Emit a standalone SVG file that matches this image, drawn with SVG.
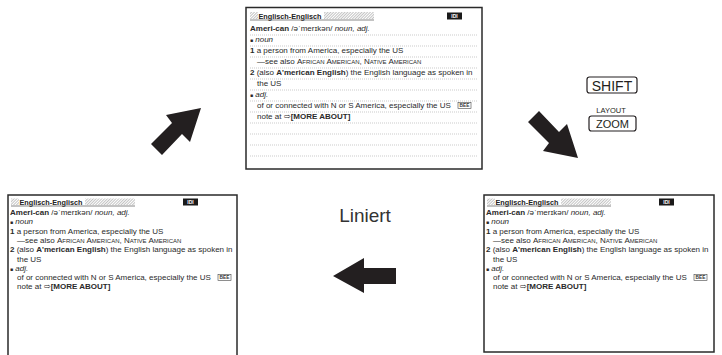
<svg xmlns="http://www.w3.org/2000/svg" width="722" height="355" viewBox="0 0 722 355">
<defs>
<pattern id="hatch" width="2" height="2" patternUnits="userSpaceOnUse" patternTransform="rotate(45)">
<rect width="2" height="2" fill="#fff"/>
<line x1="0" y1="0" x2="0" y2="2" stroke="#888" stroke-width="1"/>
</pattern>
<style>
.frame{fill:#fff;stroke:#2a2a2a;stroke-width:1.5}
.t{font-family:"Liberation Sans",Arial,sans-serif;font-size:8px;fill:#2a2a2a}
.b{font-weight:bold}
.i{font-style:italic}
.sc{font-variant:small-caps}
.sq{font-size:5px}
.hd{font-family:"Liberation Sans",Arial,sans-serif;font-size:8px;font-weight:bold;fill:#222}
.rule{stroke:#a8a8a8;stroke-width:0.6;stroke-dasharray:1 1}
.hl{stroke:#555;stroke-width:0.7}
.badge{fill:#1a1a1a}
.badgeT{font-family:"Liberation Sans",Arial,sans-serif;font-size:5px;fill:#fff;font-weight:bold}
.bee{fill:#fff;stroke:#444;stroke-width:0.6}
.beeT{font-family:"Liberation Sans",Arial,sans-serif;font-size:4.8px;fill:#333;font-weight:bold}
.arrow{fill:#231f20}
.key{fill:#fff;stroke:#231f20;stroke-width:1.2}
.keyT{font-family:"Liberation Sans",Arial,sans-serif;fill:#231f20;text-anchor:middle}
</style>
</defs>

<g id="connectors">
<polygon class="arrow" points="201,108 166,115 172,123 151,144 162,155 182,134 190,142"/>
<polygon class="arrow" points="578,158 543,151 549,143 528,122 539,111 559,132 567,124"/>
<polygon class="arrow" points="333,276 364,258 364,268 396,268 396,284 364,284 364,293"/>
</g>

<g id="panel-top">
<rect class="frame" x="246" y="7.5" width="236" height="161.5"/>
<rect x="250" y="12" width="8" height="7" fill="url(#hatch)"/>
<text class="hd" x="258.5" y="18.5" textLength="63" lengthAdjust="spacingAndGlyphs">Englisch-Englisch</text>
<rect x="324" y="12" width="50" height="7" fill="url(#hatch)"/>
<line class="hl" x1="250" y1="20" x2="374" y2="20"/>
<rect class="badge" x="447" y="12.5" width="15" height="7"/>
<text class="badgeT" x="454.5" y="18" text-anchor="middle">IDI</text>
<text class="t" x="250" y="31"><tspan class="b">Ameri-can</tspan> /əˈmerɪkən/ <tspan class="i">noun, adj.</tspan></text>
<text class="t" x="250" y="42"><tspan class="sq">■</tspan> <tspan class="i">noun</tspan></text>
<text class="t" x="250" y="53"><tspan class="b">1</tspan> a person from America, especially the US</text>
<text class="t" x="257" y="64">—see also <tspan class="sc">African American, Native American</tspan></text>
<text class="t" x="250" y="75"><tspan class="b">2</tspan> (also <tspan class="b">A'merican English</tspan>) the English language as spoken in</text>
<text class="t" x="257" y="86">the US</text>
<text class="t" x="250" y="97"><tspan class="sq">■</tspan> <tspan class="i">adj.</tspan></text>
<text class="t" x="257" y="108">of or connected with N or S America, especially the US</text>
<rect class="bee" x="458" y="102.5" width="13" height="6"/>
<text class="beeT" x="464.5" y="107.3" text-anchor="middle">BEE</text>
<text class="t" x="257" y="119">note at ⇨<tspan class="b">[MORE ABOUT]</tspan></text>
<line class="rule" x1="250" y1="35" x2="478" y2="35"/>
<line class="rule" x1="250" y1="46" x2="478" y2="46"/>
<line class="rule" x1="250" y1="57" x2="478" y2="57"/>
<line class="rule" x1="250" y1="68" x2="478" y2="68"/>
<line class="rule" x1="250" y1="79" x2="478" y2="79"/>
<line class="rule" x1="250" y1="90" x2="478" y2="90"/>
<line class="rule" x1="250" y1="101" x2="478" y2="101"/>
<line class="rule" x1="250" y1="112" x2="478" y2="112"/>
<line class="rule" x1="250" y1="123" x2="478" y2="123"/>
<line class="rule" x1="250" y1="134" x2="478" y2="134"/>
<line class="rule" x1="250" y1="145" x2="478" y2="145"/>
<line class="rule" x1="250" y1="156" x2="478" y2="156"/>
</g>

<g id="label-liniert">
<text x="365" y="222" text-anchor="middle" font-family="'Liberation Sans',Arial,sans-serif" font-size="19" fill="#333">Liniert</text>
</g>

<g id="keys">
<rect class="key" x="587" y="77" width="50" height="16" rx="2.5"/>
<text class="keyT" x="612" y="90.5" font-size="14">SHIFT</text>
<text class="keyT" x="611" y="113" font-size="7.5">LAYOUT</text>
<rect class="key" x="589" y="116" width="47" height="15" rx="2.5"/>
<text class="keyT" x="612.5" y="128" font-size="11">ZOOM</text>
</g>

<g id="panel-left">
<rect class="frame" x="8" y="195" width="229" height="165"/>
<rect x="11" y="198.5" width="8" height="6.5" fill="url(#hatch)"/>
<text class="hd" x="19.5" y="204.5" textLength="63" lengthAdjust="spacingAndGlyphs">Englisch-Englisch</text>
<rect x="85" y="198.5" width="50" height="6.5" fill="url(#hatch)"/>
<line class="hl" x1="11" y1="206" x2="135" y2="206"/>
<rect class="badge" x="183" y="198.5" width="15" height="7"/>
<text class="badgeT" x="190.5" y="204" text-anchor="middle">IDI</text>
<text class="t" x="10" y="215"><tspan class="b">Ameri-can</tspan> /əˈmerɪkən/ <tspan class="i">noun, adj.</tspan></text>
<text class="t" x="10" y="224.3"><tspan class="sq">■</tspan> <tspan class="i">noun</tspan></text>
<text class="t" x="10" y="233.6"><tspan class="b">1</tspan> a person from America, especially the US</text>
<text class="t" x="17" y="242.9">—see also <tspan class="sc">African American, Native American</tspan></text>
<text class="t" x="10" y="252.2"><tspan class="b">2</tspan> (also <tspan class="b">A'merican English</tspan>) the English language as spoken in</text>
<text class="t" x="17" y="261.5">the US</text>
<text class="t" x="10" y="270.8"><tspan class="sq">■</tspan> <tspan class="i">adj.</tspan></text>
<text class="t" x="17" y="280.1">of or connected with N or S America, especially the US</text>
<rect class="bee" x="218" y="274.5" width="13" height="6"/>
<text class="beeT" x="224.5" y="279.3" text-anchor="middle">BEE</text>
<text class="t" x="17" y="289.4">note at ⇨<tspan class="b">[MORE ABOUT]</tspan></text>
</g>

<g id="panel-right">
<rect class="frame" x="484" y="195" width="230" height="157"/>
<rect x="487" y="198.5" width="8" height="6.5" fill="url(#hatch)"/>
<text class="hd" x="495.5" y="204.5" textLength="63" lengthAdjust="spacingAndGlyphs">Englisch-Englisch</text>
<rect x="561" y="198.5" width="50" height="6.5" fill="url(#hatch)"/>
<line class="hl" x1="487" y1="206" x2="611" y2="206"/>
<rect class="badge" x="659" y="198.5" width="15" height="7"/>
<text class="badgeT" x="666.5" y="204" text-anchor="middle">IDI</text>
<text class="t" x="486" y="215"><tspan class="b">Ameri-can</tspan> /əˈmerɪkən/ <tspan class="i">noun, adj.</tspan></text>
<text class="t" x="486" y="224.3"><tspan class="sq">■</tspan> <tspan class="i">noun</tspan></text>
<text class="t" x="486" y="233.6"><tspan class="b">1</tspan> a person from America, especially the US</text>
<text class="t" x="493" y="242.9">—see also <tspan class="sc">African American, Native American</tspan></text>
<text class="t" x="486" y="252.2"><tspan class="b">2</tspan> (also <tspan class="b">A'merican English</tspan>) the English language as spoken in</text>
<text class="t" x="493" y="261.5">the US</text>
<text class="t" x="486" y="270.8"><tspan class="sq">■</tspan> <tspan class="i">adj.</tspan></text>
<text class="t" x="493" y="280.1">of or connected with N or S America, especially the US</text>
<rect class="bee" x="694" y="274.5" width="13" height="6"/>
<text class="beeT" x="700.5" y="279.3" text-anchor="middle">BEE</text>
<text class="t" x="493" y="289.4">note at ⇨<tspan class="b">[MORE ABOUT]</tspan></text>
</g>
</svg>
